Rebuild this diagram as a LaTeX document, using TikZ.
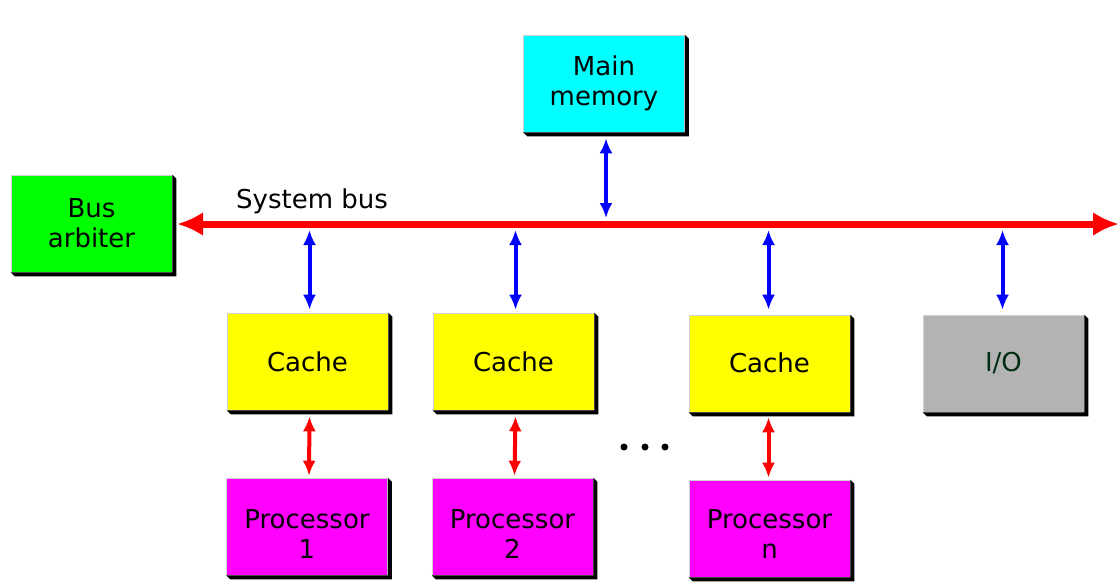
\documentclass[tikz,border=0pt]{standalone}
\usepackage{fontspec}
\setmainfont{DejaVu Sans}
\usetikzlibrary{arrows.meta}
\definecolor{boxgray}{RGB}{179,179,179}
\definecolor{iotext}{RGB}{0,45,20}
\definecolor{memcyan}{RGB}{0,255,255}
\definecolor{arbgreen}{RGB}{0,255,0}
\definecolor{cacheyellow}{RGB}{255,255,0}
\definecolor{procmag}{RGB}{255,0,255}
\definecolor{busred}{RGB}{255,0,0}
\definecolor{linkblue}{RGB}{0,0,255}
\newcommand\boxshadow[1]{\fill[black] (#1.north east) -- ([shift={(4,4)}]#1.north east) -- ([shift={(4,4)}]#1.south east) -- ([shift={(4,4)}]#1.south west) -- (#1.south west) -- (#1.south east) -- cycle;}
\begin{document}
\begin{tikzpicture}[x=1pt,y=-1pt,
  unit/.style={minimum width=161pt,minimum height=97pt,inner sep=0pt,align=center,
    draw=gray!35,line width=0.6pt,font=\fontsize{26}{30}\selectfont},
  proclabel/.style={label={[align=center,font=\fontsize{26}{30}\selectfont,yshift=-8pt]center:#1}},
  barrow/.style={draw=linkblue,line width=4pt,{Latex[length=15pt,width=13pt]}-{Latex[length=15pt,width=13pt]}},
  rarrow/.style={draw=busred,line width=4pt,{Latex[length=15pt,width=13pt]}-{Latex[length=15pt,width=13pt]}},
  busarrow/.style={draw=busred,line width=7pt,{Latex[length=26pt,width=24pt]}-{Latex[length=26pt,width=24pt]}}]
\useasboundingbox (0,0) rectangle (1119,584);
\node[unit,fill=memcyan] (mem) at (604,83.5) {Main\\memory};
\node[unit,fill=arbgreen] (arb) at (91.5,223.5) {Bus\\arbiter};
\node[unit,fill=cacheyellow] (c1) at (307.5,361.5) {Cache};
\node[unit,fill=cacheyellow] (c2) at (513.5,361.5) {Cache};
\node[unit,fill=cacheyellow] (c3) at (769.5,363.5) {\raisebox{2pt}{Cache}};
\node[unit,fill=boxgray,text=iotext] (io) at (1003.5,363.5) {\raisebox{2pt}{I/O}};
\node[unit,fill=procmag,proclabel={Processor\\1}] (p1) at (307,526.5) {};
\node[unit,fill=procmag,proclabel={Processor\\2}] (p2) at (512.5,526.5) {};
\node[unit,fill=procmag,label={[align=center,font=\fontsize{26}{30}\selectfont,yshift=-6pt]center:Processor\\n}] (pn) at (769.5,528.5) {};
\foreach \n in {mem,arb,c1,c2,c3,io,p1,p2,pn} {\boxshadow{\n}}
\node[font=\fontsize{26}{30}\selectfont,anchor=base] (lbl) at (312,208) {System bus};
\coordinate (busL) at (177,224);
\coordinate (busR) at (1119,224);
\draw[busarrow] (busL) -- (busR);
\draw[barrow] ([shift={(2,6)}]mem.south) -- ([shift={(2,-6)}]mem.south |- busL);
\draw[barrow] ([shift={(2,6)}]c1.north |- busL) -- ([shift={(2,-3)}]c1.north);
\draw[barrow] ([shift={(2,6)}]c2.north |- busL) -- ([shift={(2,-3)}]c2.north);
\draw[barrow] ([shift={(-1,6)}]c3.north |- busL) -- ([shift={(-1,-5)}]c3.north);
\draw[barrow] ([shift={(-1,6)}]io.north |- busL) -- ([shift={(-1,-5)}]io.north);
\draw[rarrow] ([shift={(2,6)}]c1.south) -- ([shift={(2,-2)}]p1.north);
\draw[rarrow] ([shift={(2,6)}]c2.south) -- ([shift={(2,-2)}]p2.north);
\draw[rarrow] ([shift={(-1,5)}]c3.south) -- ([shift={(-1,-2)}]pn.north);
\foreach \x in {624,645,665} {\fill[black] (\x,447) circle (3.5);}
\end{tikzpicture}
\end{document}
